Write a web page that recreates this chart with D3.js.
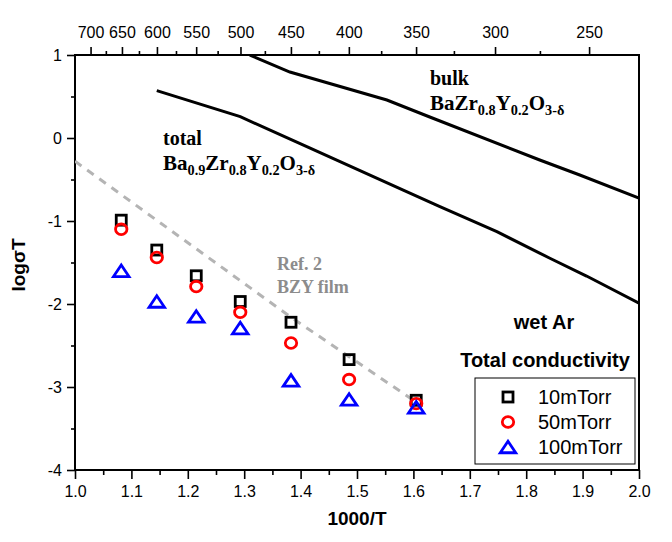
<!DOCTYPE html>
<html>
<head>
<meta charset="utf-8">
<script src="https://cdn.jsdelivr.net/npm/d3@7"></script>
<style>
  html, body { margin: 0; padding: 0; background: #fff; }
  svg { display: block; }
  .sans { font-family: "Liberation Sans", Arial, sans-serif; }
  .serif { font-family: "Liberation Serif", "Times New Roman", serif; }
</style>
</head>
<body>
<svg id="chart" width="672" height="542"></svg>
<script>
// ---------- data ----------
const invT    = [1.082, 1.145, 1.215, 1.293, 1.383, 1.486, 1.605];
const p10     = [-0.99, -1.35, -1.66, -1.97, -2.22, -2.67, -3.16];
const p50     = [-1.10, -1.44, -1.79, -2.10, -2.47, -2.91, -3.20];
const p100    = [-1.60, -1.97, -2.15, -2.29, -2.92, -3.15, -3.245];

const bulkX   = [1.310, 1.381, 1.553, 1.629, 1.824, 1.895, 2.0];
const bulkY   = [1.000, 0.795, 0.458, 0.253, -0.265, -0.446, -0.723];
const totalX  = [1.145, 1.293, 1.411, 1.582, 1.647, 1.748, 1.842, 1.907, 2.0];
const totalY  = [0.570, 0.257, -0.105, -0.627, -0.828, -1.129, -1.449, -1.663, -1.99];
const refX    = [1.0, 1.381, 1.600];
const refY    = [-0.28, -2.15, -3.16];

const xTicks      = [1.0, 1.1, 1.2, 1.3, 1.4, 1.5, 1.6, 1.7, 1.8, 1.9, 2.0];
const xMinorTicks = [1.05, 1.15, 1.25, 1.35, 1.45, 1.55, 1.65, 1.75, 1.85, 1.95];
const yTicks      = [-4, -3, -2, -1, 0, 1];
const yMinorTicks = [-3.5, -2.5, -1.5, -0.5, 0.5];
const topTemps      = [700, 650, 600, 550, 500, 450, 400, 350, 300, 250];
const topMinorTemps = [675, 625, 575, 525, 475, 425, 375, 325, 275];
const legendLabels  = ["10mTorr", "50mTorr", "100mTorr"];

// ---------- layout ----------
const L = 75, R = 639, T = 55, B = 470;
const svg = d3.select("#chart");
const x = d3.scaleLinear().domain([1, 2]).range([L, R]);
const y = d3.scaleLinear().domain([-4, 1]).range([B, T]);
const toInv = t => 1000 / (t + 273.15);

svg.append("defs").append("clipPath").attr("id", "clip")
  .append("rect").attr("x", L).attr("y", T).attr("width", R - L).attr("height", B - T);

function styleAxis(g) {
  g.selectAll("path.domain").remove();
  g.selectAll("line").attr("stroke", "#000").attr("stroke-width", 1.6);
  g.selectAll("text").attr("class", "sans").attr("font-size", 16).attr("fill", "#000")
    .attr("font-family", "'Liberation Sans', Arial, sans-serif");
}

// bottom axis
svg.append("g").attr("transform", `translate(0,${B})`)
  .call(d3.axisBottom(x).tickValues(xTicks).tickSize(9).tickPadding(7).tickFormat(d3.format(".1f")))
  .call(styleAxis);
svg.append("g").attr("transform", `translate(0,${B})`)
  .call(d3.axisBottom(x).tickValues(xMinorTicks).tickSize(5).tickFormat(""))
  .call(styleAxis);

// left axis
svg.append("g").attr("transform", `translate(${L},0)`)
  .call(d3.axisLeft(y).tickValues(yTicks).tickSize(8).tickPadding(5).tickFormat(d => String(d)))
  .call(styleAxis);
svg.append("g").attr("transform", `translate(${L},0)`)
  .call(d3.axisLeft(y).tickValues(yMinorTicks).tickSize(4).tickFormat(""))
  .call(styleAxis);

// top axis (temperature, °C)
svg.append("g").attr("transform", `translate(0,${T})`)
  .call(d3.axisTop(x).tickValues(topTemps.map(toInv)).tickSize(8).tickPadding(9)
        .tickFormat((d, i) => topTemps[i]))
  .call(styleAxis);
svg.append("g").attr("transform", `translate(0,${T})`)
  .call(d3.axisTop(x).tickValues(topMinorTemps.map(toInv)).tickSize(4).tickFormat(""))
  .call(styleAxis);

// frame
svg.append("rect").attr("x", L).attr("y", T).attr("width", R - L).attr("height", B - T)
  .attr("fill", "none").attr("stroke", "#000").attr("stroke-width", 2);

// lines
const line = d3.line().x(d => x(d[0])).y(d => y(d[1]));
const plot = svg.append("g").attr("clip-path", "url(#clip)");
plot.append("path").datum(refX.map((v, i) => [v, refY[i]]))
  .attr("d", line).attr("fill", "none").attr("stroke", "#b4b4b4")
  .attr("stroke-width", 3).attr("stroke-dasharray", "8,7");
plot.append("path").datum(bulkX.map((v, i) => [v, bulkY[i]]))
  .attr("d", line).attr("fill", "none").attr("stroke", "#000").attr("stroke-width", 3);
plot.append("path").datum(totalX.map((v, i) => [v, totalY[i]]))
  .attr("d", line).attr("fill", "none").attr("stroke", "#000").attr("stroke-width", 3);

// markers
const SW = 2.8;
function square(g, cx, cy) {
  g.append("rect").attr("x", cx - 5).attr("y", cy - 5).attr("width", 10).attr("height", 10)
    .attr("fill", "none").attr("stroke", "#000").attr("stroke-width", SW);
}
function circle(g, cx, cy) {
  g.append("ellipse").attr("cx", cx).attr("cy", cy).attr("rx", 5.7).attr("ry", 5.3)
    .attr("fill", "none").attr("stroke", "#ff0000").attr("stroke-width", SW);
}
function triangle(g, cx, cy) {
  const w = 15.5, h = 11.5;
  g.append("path").attr("d", `M${cx},${cy - h / 2}L${cx + w / 2},${cy + h / 2}L${cx - w / 2},${cy + h / 2}Z`)
    .attr("fill", "none").attr("stroke", "#0000ff").attr("stroke-width", SW);
}
const mk = svg.append("g");
invT.forEach((v, i) => square(mk, x(v), y(p10[i])));
invT.forEach((v, i) => circle(mk, x(v), y(p50[i])));
invT.forEach((v, i) => triangle(mk, x(v), y(p100[i])));

// annotations (serif formulas)
function formula(xp, yp, parts, size, color) {
  const t = svg.append("text").attr("class", "serif").attr("x", xp).attr("y", yp)
    .attr("font-size", size).attr("font-weight", "bold").attr("fill", color);
  let sub = false;
  parts.forEach(p => {
    const isSub = p[1];
    const ts = t.append("tspan").text(p[0]);
    if (isSub) { ts.attr("font-size", size * 0.68); if (!sub) ts.attr("dy", 5); }
    else if (sub) ts.attr("dy", -5);
    sub = isSub;
  });
}
svg.append("text").attr("class", "serif").attr("x", 430).attr("y", 85)
  .attr("font-size", 20).attr("font-weight", "bold").text("bulk");
formula(430, 110, [["BaZr", 0], ["0.8", 1], ["Y", 0], ["0.2", 1], ["O", 0], ["3-δ", 1]], 21, "#000");
svg.append("text").attr("class", "serif").attr("x", 163).attr("y", 145)
  .attr("font-size", 20).attr("font-weight", "bold").text("total");
formula(163, 170, [["Ba", 0], ["0.9", 1], ["Zr", 0], ["0.8", 1], ["Y", 0], ["0.2", 1], ["O", 0], ["3-δ", 1]], 21, "#000");
svg.append("text").attr("class", "serif").attr("x", 277).attr("y", 270)
  .attr("font-size", 18).attr("font-weight", "bold").attr("fill", "#8c8c8c").text("Ref. 2");
svg.append("text").attr("class", "serif").attr("x", 277).attr("y", 293)
  .attr("font-size", 18).attr("font-weight", "bold").attr("fill", "#8c8c8c").text("BZY film");

svg.append("text").attr("class", "sans").attr("x", 544).attr("y", 329).attr("text-anchor", "middle")
  .attr("font-size", 20).attr("font-weight", "bold").text("wet Ar");
svg.append("text").attr("class", "sans").attr("x", 545).attr("y", 367).attr("text-anchor", "middle")
  .attr("font-size", 20).attr("font-weight", "bold").text("Total conductivity");

// legend
const lg = svg.append("g");
lg.append("rect").attr("x", 475).attr("y", 378).attr("width", 160).attr("height", 86)
  .attr("fill", "#fff").attr("stroke", "#000").attr("stroke-width", 1);
const drawers = [square, circle, triangle];
legendLabels.forEach((lab, i) => {
  const cy = 397 + i * 25;
  drawers[i](lg, 508, cy);
  lg.append("text").attr("class", "sans").attr("x", 538).attr("y", cy + 7)
    .attr("font-size", 20).text(lab);
});

// axis titles
svg.append("text").attr("class", "sans").attr("x", 357).attr("y", 525).attr("text-anchor", "middle")
  .attr("font-size", 19).attr("font-weight", "bold").text("1000/T");
svg.append("text").attr("class", "sans").attr("transform", "translate(25,265) rotate(-90)")
  .attr("text-anchor", "middle").attr("font-size", 19).attr("font-weight", "bold").text("logσT");
</script>
</body>
</html>
